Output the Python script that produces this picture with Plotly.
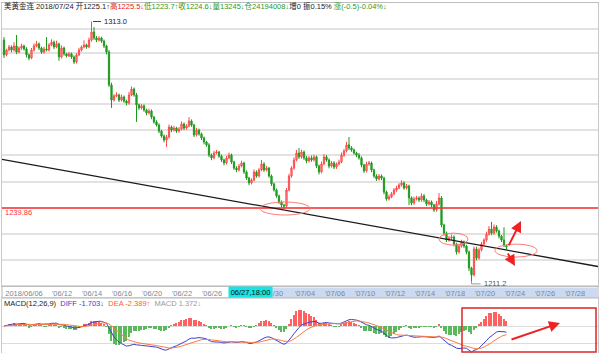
import plotly.graph_objects as go
import pandas as pd

W, H = 600, 353

# ---------------- data (4h candles, 2018/06/06 .. 2018/07/24) ----------------
first_open = 1305.7
close = [
    1299.9, 1301.8, 1303.0, 1301.8, 1303.4, 1301.0, 1302.6, 1303.4, 1302.2, 1299.9,
    1298.7, 1301.8, 1303.4, 1304.2, 1302.6, 1301.0, 1302.2, 1301.8, 1303.8, 1304.9,
    1303.0, 1304.2, 1299.1, 1302.6, 1300.3, 1299.5, 1300.3, 1299.1, 1297.1, 1299.9,
    1301.8, 1303.0, 1303.8, 1303.0, 1305.7, 1308.9, 1306.5, 1305.7, 1306.5, 1305.3,
    1303.4, 1301.0, 1288.1, 1282.2, 1283.8, 1284.2, 1282.2, 1283.4, 1281.8, 1281.0,
    1284.2, 1286.5, 1284.2, 1280.3, 1279.1, 1279.9, 1278.3, 1277.1, 1277.9, 1275.5,
    1273.6, 1272.4, 1270.0, 1268.1, 1266.5, 1267.7, 1271.6, 1270.4, 1271.2, 1270.0,
    1270.8, 1272.8, 1271.2, 1272.0, 1274.0, 1272.4, 1268.5, 1270.4, 1268.9, 1267.3,
    1265.7, 1264.6, 1260.6, 1259.5, 1261.4, 1261.8, 1260.2, 1258.7, 1257.5, 1259.5,
    1260.6, 1257.9, 1255.5, 1254.8, 1256.3, 1257.5, 1254.0, 1251.6, 1249.7, 1250.8,
    1254.0, 1252.4, 1254.8, 1257.1, 1254.8, 1255.5, 1252.4, 1249.3, 1246.9, 1244.6,
    1242.2, 1241.0, 1240.6, 1246.9, 1252.4, 1255.5, 1258.7, 1261.4, 1259.9, 1261.8,
    1259.5, 1258.3, 1259.5, 1258.7, 1259.9, 1256.3, 1254.0, 1257.1, 1259.9, 1258.7,
    1256.3, 1257.5, 1255.9, 1257.1, 1257.9, 1260.6, 1262.2, 1264.6, 1263.4, 1262.6,
    1261.4, 1260.6, 1259.5, 1256.7, 1254.4, 1257.1, 1257.5, 1254.8, 1252.4, 1251.2,
    1252.4, 1251.6, 1246.1, 1243.4, 1244.2, 1245.4, 1246.9, 1247.7, 1248.9, 1249.7,
    1247.7, 1248.5, 1243.8, 1241.8, 1243.4, 1243.8, 1243.0, 1244.6, 1243.0, 1241.4,
    1242.2, 1241.0, 1239.1, 1241.4, 1243.8, 1233.2, 1230.0, 1227.3, 1228.1, 1228.5,
    1225.7, 1222.6, 1224.9, 1226.5, 1224.9, 1222.6, 1216.3, 1213.6, 1223.8, 1220.2,
    1223.4, 1225.7, 1227.3, 1229.6, 1231.6, 1230.0, 1232.4, 1230.8, 1228.8, 1227.3,
    1225.1, 1224.6,
]
upper_wick = [
    1.2, 0.5, 0.8, 0.6, 1.5, 4.3, 0.6, 0.9, 0.5, 0.7,
    0.5, 0.8, 1.0, 1.2, 0.6, 0.5, 0.9, 4.7, 0.7, 1.1,
    0.6, 1.3, 0.5, 1.0, 0.6, 0.4, 0.8, 0.5, 0.6, 0.7,
    0.9, 0.6, 1.8, 0.5, 1.0, 4.1, 1.9, 0.8, 0.7, 0.5,
    0.6, 0.5, 0.8, 0.9, 0.7, 1.0, 0.5, 0.9, 0.6, 0.5,
    1.2, 1.0, 0.6, 0.8, 0.5, 0.7, 0.6, 0.5, 0.9, 0.6,
    0.5, 0.7, 0.6, 0.5, 0.6, 0.8, 1.0, 0.6, 0.9, 0.5,
    0.8, 1.0, 0.6, 0.7, 1.5, 0.6, 0.5, 0.9, 0.6, 0.5,
    0.6, 0.5, 0.7, 0.6, 0.9, 0.8, 0.5, 0.6, 0.5, 0.8,
    1.0, 0.6, 0.5, 0.7, 0.8, 0.9, 0.5, 0.6, 0.5, 0.7,
    1.0, 0.6, 0.8, 1.6, 0.7, 0.9, 0.5, 0.6, 0.5, 0.6,
    0.5, 0.6, 0.5, 0.8, 0.9, 0.7, 1.0, 1.2, 2.0, 0.9,
    0.6, 0.8, 0.7, 0.9, 0.8, 0.5, 0.6, 1.0, 1.1, 0.7,
    0.6, 0.8, 0.7, 0.6, 0.9, 1.0, 0.8, 1.2, 3.1, 0.7,
    0.6, 0.5, 0.8, 0.6, 0.5, 0.9, 0.8, 0.6, 0.5, 0.7,
    0.8, 0.6, 0.5, 0.6, 0.9, 0.7, 0.8, 0.9, 0.7, 1.0,
    0.6, 0.8, 0.5, 0.6, 0.9, 0.8, 0.6, 1.0, 0.7, 0.5,
    0.8, 0.6, 0.5, 1.2, 1.9, 0.7, 0.5, 0.6, 0.8, 0.9,
    0.6, 0.5, 1.0, 0.9, 0.6, 0.5, 0.6, 0.5, 1.0, 0.8,
    0.9, 0.8, 0.7, 1.0, 1.2, 2.8, 1.0, 0.7, 0.6, 0.5,
    5.0, 0.4,
]
lower_wick = [
    1.2, 0.6, 0.5, 0.9, 0.6, 0.8, 0.5, 0.7, 0.6, 1.0,
    0.9, 0.5, 0.6, 0.5, 0.8, 0.7, 0.6, 0.5, 0.6, 0.5,
    0.8, 0.5, 1.5, 0.6, 0.7, 0.6, 0.5, 0.8, 0.8, 0.6,
    0.5, 0.6, 0.5, 0.7, 0.5, 0.6, 0.7, 0.8, 0.6, 0.7,
    0.8, 0.9, 0.7, 3.1, 0.6, 0.5, 0.8, 0.6, 0.7, 0.9,
    0.6, 0.5, 0.7, 6.7, 0.8, 0.6, 0.7, 0.9, 0.6, 0.8,
    0.7, 0.6, 0.8, 0.7, 0.9, 2.7, 0.6, 0.8, 0.5, 0.7,
    0.6, 0.5, 0.8, 0.6, 0.5, 0.7, 0.8, 0.6, 0.7, 0.8,
    0.9, 0.7, 0.8, 0.9, 0.6, 0.5, 0.7, 0.8, 0.9, 0.6,
    0.5, 0.8, 0.7, 0.9, 0.6, 0.5, 0.8, 0.7, 0.9, 0.6,
    0.5, 0.7, 0.6, 0.5, 0.8, 0.6, 0.7, 0.8, 0.6, 0.7,
    0.8, 0.9, 1.1, 0.6, 0.5, 0.7, 0.6, 0.5, 0.8, 0.7,
    0.8, 0.9, 0.6, 0.7, 0.6, 0.8, 1.0, 0.6, 0.5, 0.7,
    0.9, 0.6, 0.8, 0.7, 0.6, 0.5, 0.7, 0.6, 0.8, 0.7,
    0.6, 0.8, 0.7, 0.9, 0.8, 0.6, 0.7, 0.9, 0.8, 0.7,
    0.6, 0.8, 0.9, 0.7, 0.6, 0.5, 0.6, 0.7, 0.5, 0.6,
    0.7, 0.6, 2.8, 0.9, 0.7, 0.6, 0.8, 0.7, 0.9, 0.8,
    0.6, 0.9, 0.8, 0.7, 0.6, 0.9, 1.0, 0.8, 0.7, 0.8,
    0.9, 1.0, 0.7, 0.6, 0.8, 0.9, 1.2, 2.4, 0.6, 0.9,
    0.7, 0.6, 0.5, 0.7, 0.6, 0.8, 0.7, 0.6, 0.9, 0.8,
    0.6, 0.9,
]

tick_pos = [8, 23.2, 35.2, 47.2, 59.2, 71.2, 83.2, 109.6, 120.4, 132.4,
            144.4, 156.4, 168.4, 180.4, 192.4, 204.4, 216.4, 228.4]
tick_text = ["2018/06/06", "'06/12", "'06/14", "'06/16", "'06/20", "'06/22", "'06/26",
             "/30", "'07/04", "'07/06", "'07/10", "'07/12", "'07/14", "'07/18",
             "'07/20", "'07/24", "'07/26", "'07/28"]
grid_levels = [1219.5, 1229.6, 1239.9, 1250.0, 1260.6, 1270.4, 1280.6, 1290.4, 1300.6, 1310.1]
support_level = 1239.86
trend_start = (-0.8, 1258.9)
trend_end = (237.6, 1216.9)
macd_readout = {"DIFF": "-1.703", "DEA": "-2.389", "MACD": "1.372"}

# ---------------- derived ----------------
open_ = [first_open] + close[:-1]
high = [max(o, c) + u for o, c, u in zip(open_, close, upper_wick)]
low = [min(o, c) - l for o, c, l in zip(open_, close, lower_wick)]
idx = list(range(len(close)))

s = pd.Series(close)
diff = s.ewm(span=12, adjust=False).mean() - s.ewm(span=26, adjust=False).mean()
dea = diff.ewm(span=9, adjust=False).mean()
macd = 2 * (diff - dea)

FONT = "Arial, 'Liberation Sans', 'Noto Sans CJK SC', sans-serif"
RED = "#ff3030"
GREEN = "#1f9a1f"


def px(x):
    return x / W


def py(y):
    return 1 - y / H


# MACD panel scale: zero at pixel 326, 3.6 px per unit
M_ZERO, M_SCALE = 326, 3.6


def my(y):
    return (M_ZERO - y) / M_SCALE


fig = go.Figure()
fig.add_trace(go.Candlestick(
    x=idx, open=open_, high=high, low=low, close=close,
    increasing=dict(line=dict(color="#ff4a4a", width=1), fillcolor="#ff9090"),
    decreasing=dict(line=dict(color=GREEN, width=1), fillcolor=GREEN),
    xaxis="x", yaxis="y", hoverinfo="skip",
))
fig.add_trace(go.Bar(
    x=idx, y=macd, width=0.42,
    marker=dict(color=["#ff6060" if v >= 0 else "#5cb85c" for v in macd], line=dict(width=0)),
    xaxis="x2", yaxis="y2",
))
fig.add_trace(go.Scatter(x=idx, y=diff, mode="lines", line=dict(color="#4040cc", width=1),
                         xaxis="x2", yaxis="y2"))
fig.add_trace(go.Scatter(x=idx, y=dea, mode="lines", line=dict(color="#ff7a40", width=1),
                         xaxis="x2", yaxis="y2"))

xr = [-0.8, 237.6]
fig.update_layout(
    width=W, height=H, margin=dict(l=0, r=0, t=0, b=0),
    paper_bgcolor="white", plot_bgcolor="white", showlegend=False,
    font=dict(family=FONT, size=8, color="#333"),
    xaxis=dict(domain=[px(2), px(598)], range=xr, rangeslider=dict(visible=False),
               showgrid=False, zeroline=False, showline=True, linecolor="#bdbdbd", mirror=True,
               tickvals=tick_pos, ticktext=tick_text, ticks="",
               tickfont=dict(size=7.5, color="#7d8795"), anchor="y"),
    yaxis=dict(domain=[py(286), py(3)], range=[1209.26, 1320.25], showticklabels=False,
               tickvals=grid_levels, showgrid=True, gridcolor="#e2e2e2", gridwidth=1.5,
               zeroline=False, showline=True, linecolor="#c8c8c8", mirror=True, anchor="x"),
    xaxis2=dict(domain=[px(2), px(598)], range=xr, showticklabels=False, showgrid=False,
                zeroline=False, showline=True, linecolor="#c8c8c8", mirror=True, anchor="y2"),
    yaxis2=dict(domain=[0, py(298)], range=[my(353), my(298)], showticklabels=False,
                tickvals=[my(343), 0], showgrid=True, gridcolor="#dcdcdc", gridwidth=1,
                zeroline=False, showline=True, linecolor="#c8c8c8", mirror=True, anchor="x2"),
    bargap=0,
)

shapes = []
# date band
shapes.append(dict(type="rect", xref="paper", yref="paper", x0=px(2), x1=px(598), y0=py(298), y1=py(286),
                   fillcolor="white", line=dict(color="#b5b5b5", width=1), layer="below"))
shapes.append(dict(type="rect", xref="paper", yref="paper", x0=px(229), x1=px(597.5), y0=py(297), y1=py(287.5),
                   fillcolor="#cbdaf1", line=dict(width=0), layer="below"))
# support line
shapes.append(dict(type="line", xref="paper", yref="y", x0=px(2), x1=px(598),
                   y0=support_level, y1=support_level, line=dict(color=RED, width=1.5)))
# trend line
shapes.append(dict(type="line", xref="x", yref="y", x0=trend_start[0], y0=trend_start[1],
                   x1=trend_end[0], y1=trend_end[1], line=dict(color="#1a1a1a", width=1.3)))
# ellipses
for x0, x1, y0, y1 in [(102.4, 122.4, 1237.1, 1242.2), (174.0, 185.6, 1225.3, 1230.0),
                       (196.4, 213.2, 1220.6, 1225.7)]:
    shapes.append(dict(type="circle", xref="x", yref="y", x0=x0, x1=x1, y0=y0, y1=y1,
                       line=dict(color="#ff7a7a", width=1)))
# max / min markers
imax = max(idx, key=lambda i: high[i])
imin = min(idx, key=lambda i: low[i])
shapes.append(dict(type="line", xref="x", yref="y", x0=imax + 0.6, x1=imax + 3.8,
                   y0=high[imax], y1=high[imax], line=dict(color="#444", width=1)))
shapes.append(dict(type="path", xref="x", yref="y",
                   path=f"M {imin},{low[imin]} L {imin},{low[imin]-1.1} L {imin+3.6},{low[imin]-1.1}",
                   line=dict(color="#999", width=1)))
# MACD focus rectangle
shapes.append(dict(type="rect", xref="x2", yref="y2", x0=183.2, x1=236.8, y0=my(352), y1=my(308),
                   line=dict(color="#e02525", width=1.5)))
fig.update_layout(shapes=shapes)

ann = []
header = ("<span style='color:#222'>美黄金连 2018/07/24 开1225.1↑</span>"
          "<span style='color:#e82020'>高1225.5↓</span>"
          "<span style='color:#2a9a2a'>低1223.7↑收1224.6↓量13245↓仓24194008↓</span>"
          "<span style='color:#222'>增0 振0.15% </span>"
          "<span style='color:#2a9a2a'>涨(-0.5)-0.04%↓</span>")
ann.append(dict(xref="paper", yref="paper", x=px(2), y=py(6), xanchor="left", yanchor="middle",
                text=header, showarrow=False, font=dict(size=7.5)))
ann.append(dict(xref="x", yref="y", x=imax + 4.0, y=high[imax], xanchor="left", yanchor="middle",
                text=f"{high[imax]:.1f}", showarrow=False, font=dict(size=7.5, color="#222")))
ann.append(dict(xref="x", yref="y", x=imin + 4.0, y=low[imin] - 1.1, xanchor="left", yanchor="middle",
                text=f"{low[imin]:.1f}", showarrow=False, font=dict(size=7.5, color="#555")))
ann.append(dict(xref="paper", yref="paper", x=px(3), y=py(212), xanchor="left", yanchor="middle",
                text=f"{support_level:.2f}", showarrow=False, font=dict(size=7.5, color=RED)))
# cursor date
ann.append(dict(xref="paper", yref="paper", x=px(250.5), y=py(292), xanchor="center", yanchor="middle",
                text="06/27,18:00", showarrow=False, bgcolor="#19e3e3", width=43, height=10,
                borderpad=0, font=dict(size=7.5, color="#111")))
# arrows
for x, y, ax, ay, xr_, yr_ in [(206.8, 1234.8, -13, 26, "x", "y"), (204.4, 1217.1, -8, -14, "x", "y"),
                                (222.4, my(323), -50, 17, "x2", "y2")]:
    ann.append(dict(xref=xr_, yref=yr_, x=x, y=y, ax=ax, ay=ay, text="", showarrow=True,
                    arrowhead=2, arrowsize=1.1, arrowwidth=2, arrowcolor="#ee2222"))
# MACD header
macd_head = ("<span style='color:#222'>MACD(12,26,9)</span>  "
             f"<span style='color:#4040cc'>DIFF {macd_readout['DIFF']}↓</span>  "
             f"<span style='color:#ff5a2a'>DEA {macd_readout['DEA']}↑</span>  "
             f"<span style='color:#999'>MACD {macd_readout['MACD']}↓</span>")
ann.append(dict(xref="paper", yref="paper", x=px(2), y=py(303), xanchor="left", yanchor="middle",
                text=macd_head, showarrow=False, font=dict(size=7.5)))
fig.update_layout(annotations=ann)

fig.write_html("out.html")
